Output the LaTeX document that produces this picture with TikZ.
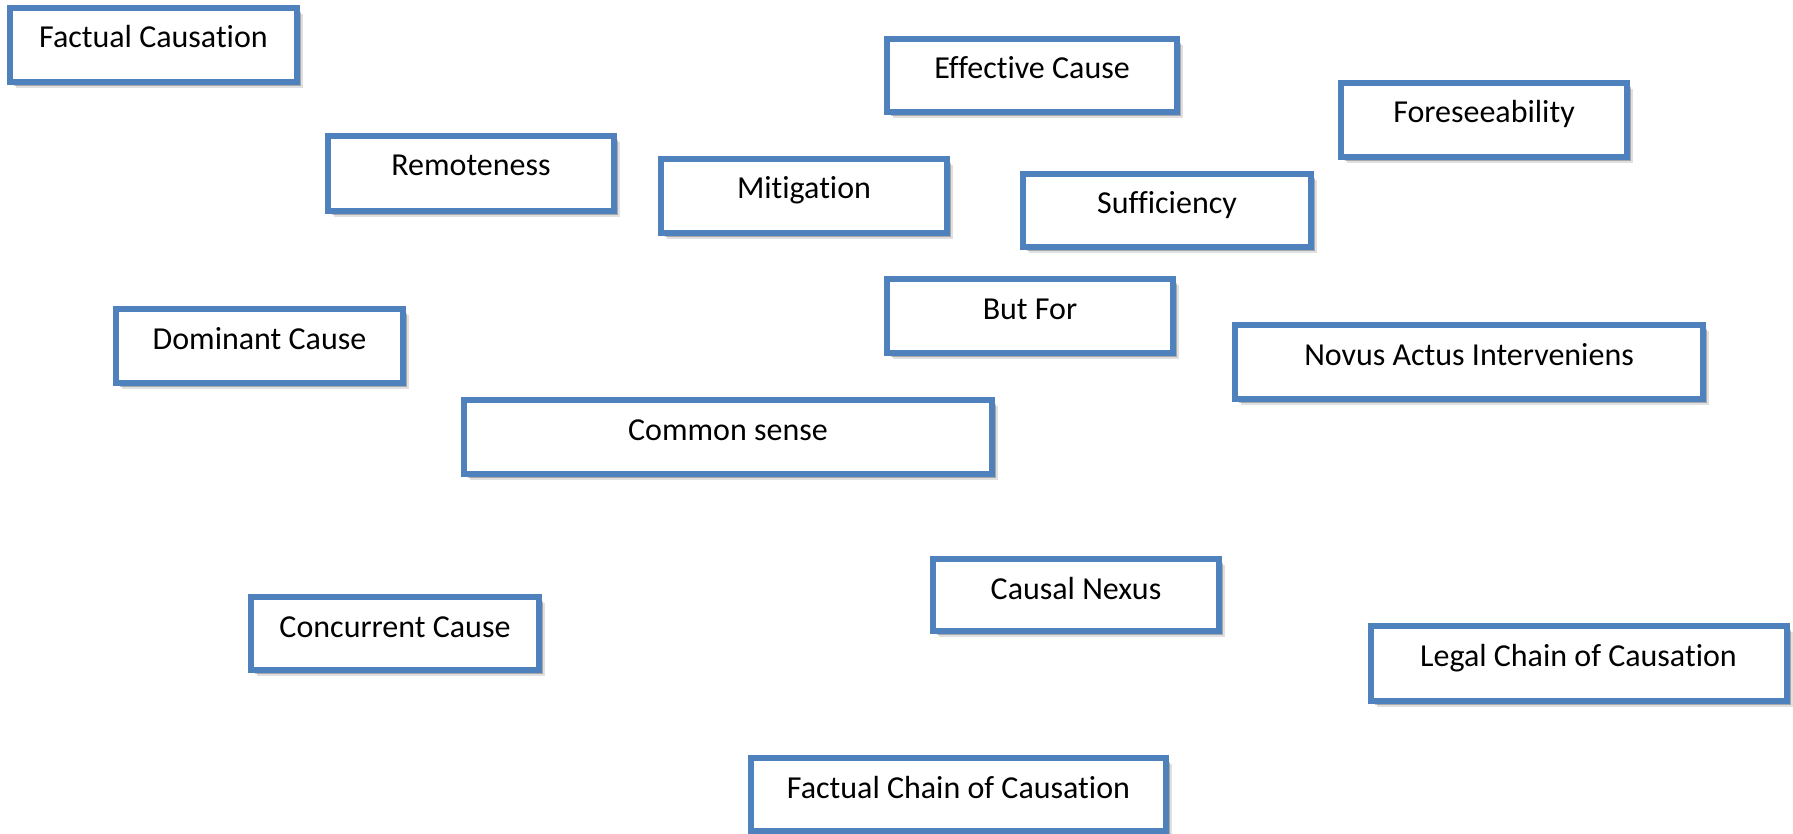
\documentclass[tikz,border=0pt]{standalone}
\usepackage{fontspec}
\setmainfont{Carlito}[Ligatures=NoCommon]
\usetikzlibrary{shadows}
\definecolor{boxblue}{HTML}{4F81BD}
\tikzset{
  cbox/.style={draw=boxblue, line width=6pt, fill=white, rectangle, inner sep=0pt, outer sep=0pt,
    general shadow={shadow xshift=6pt, shadow yshift=-6pt, fill=black, opacity=0.12},
    drop shadow={shadow xshift=4pt, shadow yshift=-4pt, fill=black, opacity=0.25}},
  lbl/.style={font=\fontsize{32}{38}\selectfont, anchor=base, inner sep=0pt}
}
\begin{document}
\begin{tikzpicture}[x=1pt,y=-1pt]
\useasboundingbox (0,0) rectangle (1793,834);
\node[cbox, minimum width=287pt, minimum height=74pt] (b1) at (153.5,45) {};
\node[lbl] (t1) at ([yshift=-40pt]b1.north) {Factual Causation};
\node[cbox, minimum width=290pt, minimum height=73pt] (b2) at (1032,75.5) {};
\node[lbl] (t2) at ([yshift=-40pt]b2.north) {Effective Cause};
\node[cbox, minimum width=286pt, minimum height=74pt] (b3) at (1484,120) {};
\node[lbl] (t3) at ([yshift=-40pt]b3.north) {Foreseeability};
\node[cbox, minimum width=286pt, minimum height=75pt] (b4) at (471,173.5) {};
\node[lbl] (t4) at ([yshift=-40pt]b4.north) {Remoteness};
\node[cbox, minimum width=286pt, minimum height=74pt] (b5) at (804,196) {};
\node[lbl] (t5) at ([yshift=-40pt]b5.north) {Mitigation};
\node[cbox, minimum width=288pt, minimum height=73pt] (b6) at (1167,210.5) {};
\node[lbl] (t6) at ([yshift=-40pt]b6.north) {Sufficiency};
\node[cbox, minimum width=286pt, minimum height=74pt] (b7) at (1030,316) {};
\node[lbl] (t7) at ([yshift=-40pt]b7.north) {But For};
\node[cbox, minimum width=468pt, minimum height=74pt] (b8) at (1469,362) {};
\node[lbl] (t8) at ([yshift=-40pt]b8.north) {Novus Actus Interveniens};
\node[cbox, minimum width=287pt, minimum height=74pt] (b9) at (259.5,346) {};
\node[lbl] (t9) at ([yshift=-40pt]b9.north) {Dominant Cause};
\node[cbox, minimum width=528pt, minimum height=74pt] (b10) at (728,437) {};
\node[lbl] (t10) at ([yshift=-40pt]b10.north) {Common sense};
\node[cbox, minimum width=286pt, minimum height=72pt] (b11) at (1076,595) {};
\node[lbl] (t11) at ([yshift=-40pt]b11.north) {Causal Nexus};
\node[cbox, minimum width=288pt, minimum height=73pt] (b12) at (395,633.5) {};
\node[lbl] (t12) at ([yshift=-40pt]b12.north) {Concurrent Cause};
\node[cbox, minimum width=416pt, minimum height=75pt] (b13) at (1578.5,663.5) {};
\node[lbl] (t13) at ([yshift=-40pt]b13.north) {Legal Chain of Causation};
\node[cbox, minimum width=415pt, minimum height=73pt] (b14) at (958.5,794.5) {};
\node[lbl] (t14) at ([yshift=-40pt]b14.north) {Factual Chain of Causation};
\end{tikzpicture}
\end{document}
